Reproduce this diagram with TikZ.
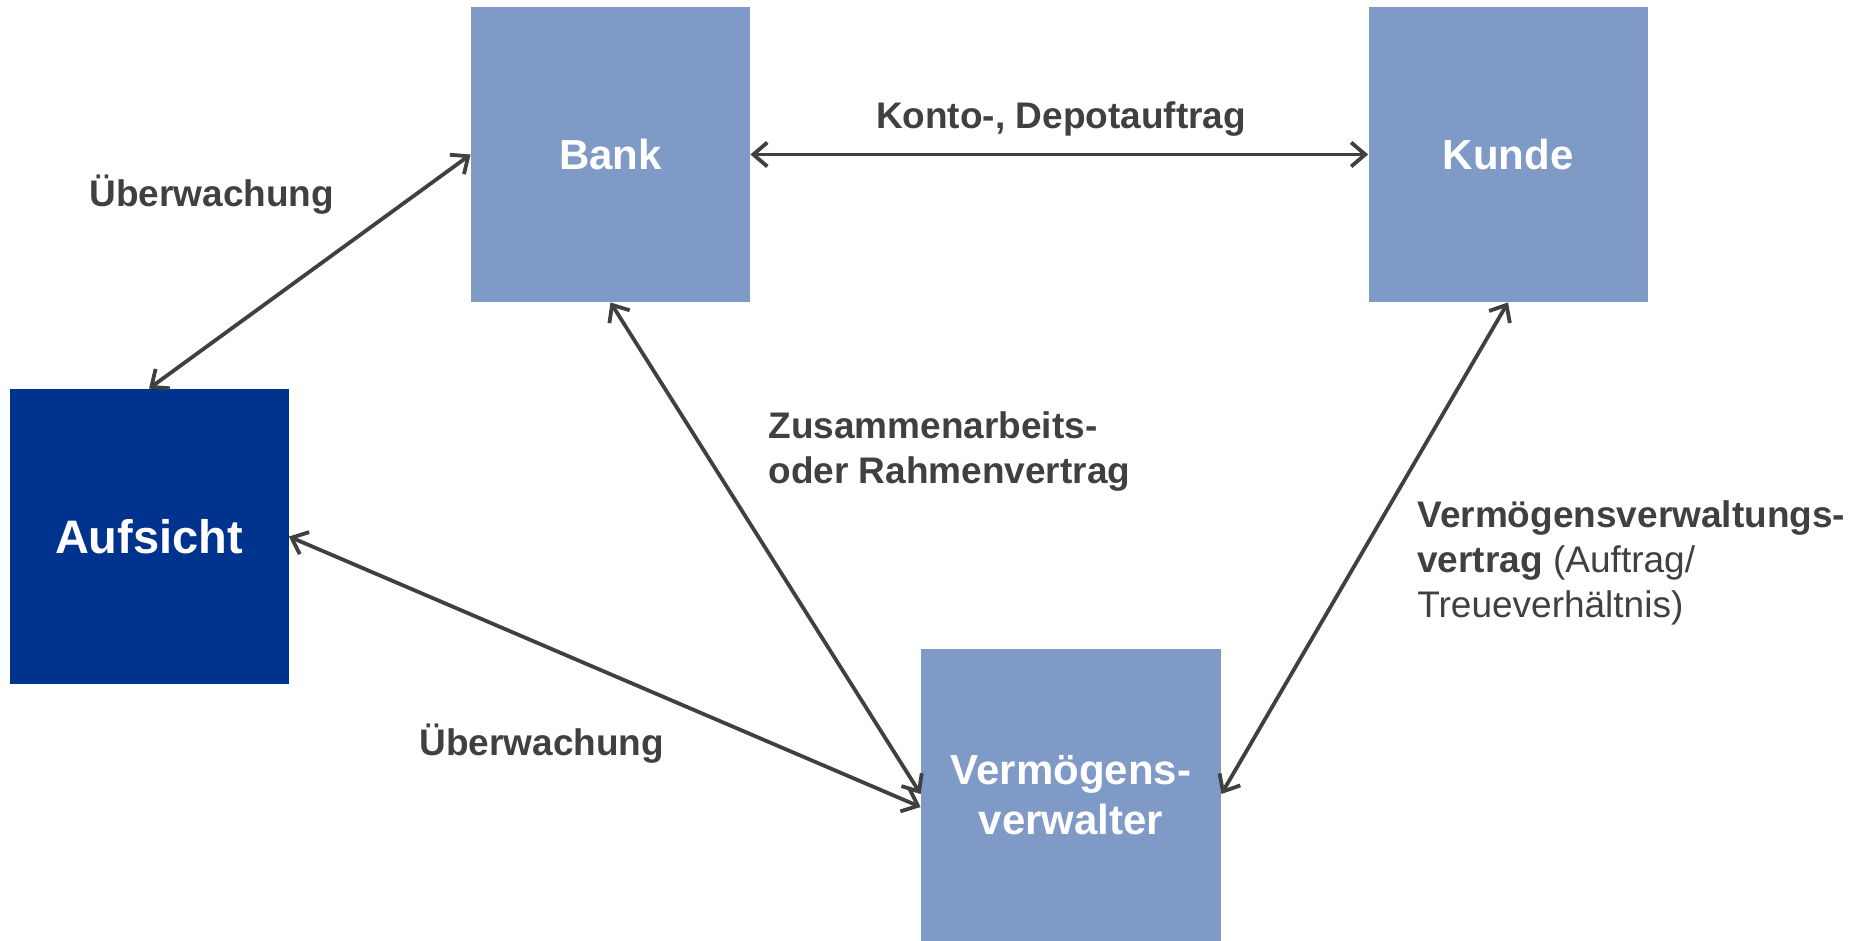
\documentclass[tikz,border=0pt]{standalone}
\usepackage{fontspec}
\setmainfont{Liberation Sans}
\usetikzlibrary{arrows.meta,calc}
\definecolor{boxlight}{RGB}{128,154,199}
\definecolor{boxdark}{RGB}{0,51,141}
\definecolor{ink}{RGB}{64,64,64}
\begin{document}
\begin{tikzpicture}[x=0.5pt,y=-0.5pt,
  party/.style={rectangle,inner sep=0pt,fill=boxlight,text=white,
    font=\bfseries\fontsize{21}{24}\selectfont,align=center,
    minimum width=139.5pt,minimum height=147.5pt},
  label/.style={inner sep=0pt,text=ink,font=\fontsize{18.5}{22.5}\selectfont\bfseries,align=left},
  link/.style={draw=ink,line width=1.9pt,{Straight Barb[length=7pt,width=12pt,line width=1.9pt]}-{Straight Barb[length=7pt,width=12pt,line width=1.9pt]}}]
  \useasboundingbox (0,0) rectangle (1866,941);
  % parties
  \node[party] (bank) at (610.5,154.5) {Bank};
  \node[party] (kunde) at (1508,154.5) {Kunde};
  \node[party,fill=boxdark,font=\bfseries\fontsize{23.5}{27}\selectfont] (aufsicht) at (149,536.5) {Aufsicht};
  \node[party,minimum width=150pt,minimum height=146pt] (vv) at (1071,795) {Vermögens-\\[1pt]verwalter};
  % relations
  \draw[link] (bank.east) -- (kunde.west);
  \draw[link] (aufsicht.north) -- (bank.west);
  \draw[link] (bank.south) -- ($(vv.west)+(0,-1)$);
  \draw[link] (aufsicht.east) -- ($(vv.west)+(0,12)$);
  \draw[link] (kunde.south) -- ($(vv.east)+(0,-1)$);
  % labels
  \node[label,anchor=west] (l1) at (89,195) {Überwachung};
  \node[label] (l2) at (1061,119) {Konto-, Depotauftrag};
  \node[label,anchor=west] (l3) at (768,452) {Zusammenarbeits-\\oder Rahmenvertrag};
  \node[label,anchor=west] (l4) at (419,744) {Überwachung};
  \node[label,anchor=west] (l5) at (1417,563) {Vermögensverwaltungs-\\vertrag \mdseries(Auftrag/\\\mdseries Treueverhältnis)};
\end{tikzpicture}
\end{document}
